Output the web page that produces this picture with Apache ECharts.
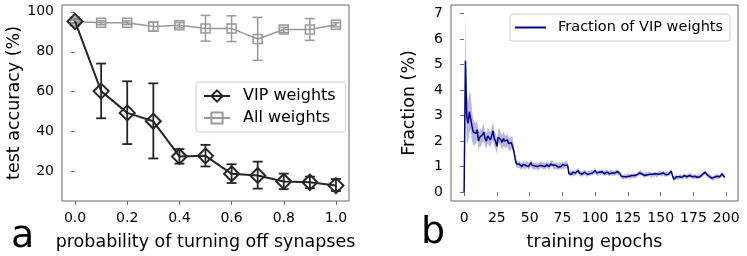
<!DOCTYPE html>
<html><head><meta charset="utf-8">
<script src="https://cdn.jsdelivr.net/npm/echarts@6/dist/echarts.min.js"></script>
<style>html,body{margin:0;padding:0;background:#fff}#c{width:747px;height:256px}</style>
</head><body><div id="c"></div>
<script>
// Panel a data
const probs = [0.0,0.1,0.2,0.3,0.4,0.5,0.6,0.7,0.8,0.9,1.0];
const vipMean = [95.2,60.3,49.4,45.2,27.6,27.9,18.9,18.1,15.1,14.7,13.0];
const vipLo   = [94.2,46.7,33.8,26.6,24.0,22.6,14.3,11.5,11.2,11.7,10.3];
const vipHi   = [96.2,74.1,65.2,64.2,31.3,33.4,23.7,25.0,19.0,17.5,16.3];
const allMean = [95.1,94.5,94.5,92.6,93.3,91.6,91.6,86.4,91.1,91.1,93.5];
const allLo   = [94.3,93.5,93.6,90.3,92.0,85.3,85.1,75.7,89.6,85.7,92.5];
const allHi   = [95.9,95.5,95.4,94.8,94.6,98.2,98.0,97.2,92.2,96.6,94.5];
const xTicksA = [0,0.2,0.4,0.6,0.8,1.0];
const yTicksA = [20,40,60,80,100];

// Panel b data
const epochs = Array.from({length:200},(_,i)=>i);
const fracMean = [
0,5.15,3.0,2.7,3.15,3.15,2.6,2.35,2.3,2.3,
2.45,2.0,2.15,2.1,2.25,2.35,2.1,2.0,2.2,2.15,
2.05,2.2,2.4,2.1,2.0,1.8,2.15,2.2,2.05,1.95,
2.1,2.0,1.95,2.05,1.9,1.85,1.95,1.9,1.6,1.3,
1.1,1.05,1.1,1.05,1.0,1.08,1.02,1.05,1.1,1.0,
1.05,1.15,1.05,1.0,1.02,1.05,1.0,0.98,1.05,1.08,
1.02,1.05,1.0,1.08,1.05,1.0,1.1,1.15,1.05,1.0,
1.05,1.02,0.98,1.05,1.0,1.08,1.02,1.05,1.1,1.05,
0.72,0.75,0.7,0.78,0.72,0.75,0.8,0.85,0.75,0.72,
0.7,0.75,0.78,0.72,0.7,0.75,0.72,0.78,0.75,0.8,
0.85,0.75,0.72,0.78,0.75,0.8,0.78,0.72,0.75,0.78,
0.75,0.72,0.78,0.75,0.72,0.75,0.78,0.8,0.75,0.72,
0.62,0.57,0.6,0.62,0.6,0.65,0.62,0.6,0.65,0.62,
0.65,0.6,0.68,0.72,0.75,0.78,0.7,0.68,0.65,0.7,
0.68,0.72,0.7,0.65,0.7,0.68,0.72,0.65,0.7,0.75,
0.72,0.68,0.75,0.7,0.68,0.72,0.7,0.75,0.82,0.65,
0.5,0.55,0.6,0.55,0.6,0.62,0.58,0.6,0.65,0.58,
0.6,0.62,0.65,0.68,0.6,0.58,0.62,0.6,0.58,0.62,
0.6,0.65,0.7,0.75,0.78,0.7,0.65,0.62,0.6,0.55,
0.52,0.58,0.6,0.62,0.58,0.6,0.65,0.72,0.62,0.6];
const fracSpread = [
0,1.75,1.0,0.8,0.8,0.7,0.6,0.5,0.45,0.4,
0.38,0.35,0.35,0.32,0.3,0.35,0.3,0.3,0.3,0.3,
0.3,0.3,0.35,0.3,0.3,0.3,0.3,0.3,0.28,0.28,
0.28,0.25,0.25,0.25,0.25,0.25,0.25,0.25,0.2,0.15,
0.13,0.13,0.13,0.13,0.13,0.13,0.13,0.13,0.13,0.13,
0.13,0.13,0.13,0.13,0.13,0.13,0.13,0.13,0.13,0.13,
0.13,0.13,0.13,0.13,0.13,0.13,0.13,0.13,0.13,0.13,
0.13,0.13,0.13,0.13,0.13,0.13,0.13,0.13,0.13,0.13,
0.1,0.1,0.1,0.1,0.1,0.1,0.1,0.1,0.1,0.1,
0.1,0.1,0.1,0.1,0.1,0.1,0.1,0.1,0.1,0.1,
0.1,0.1,0.1,0.1,0.1,0.1,0.1,0.1,0.1,0.1,
0.1,0.1,0.1,0.1,0.1,0.1,0.1,0.1,0.1,0.1,
0.09,0.09,0.09,0.09,0.09,0.09,0.09,0.09,0.09,0.09,
0.09,0.09,0.09,0.09,0.09,0.09,0.09,0.09,0.09,0.09,
0.09,0.09,0.09,0.09,0.09,0.09,0.09,0.09,0.09,0.09,
0.09,0.09,0.09,0.09,0.09,0.09,0.09,0.09,0.09,0.09,
0.09,0.09,0.09,0.09,0.09,0.09,0.09,0.09,0.09,0.09,
0.09,0.09,0.09,0.09,0.09,0.09,0.09,0.09,0.09,0.09,
0.09,0.09,0.09,0.09,0.09,0.09,0.09,0.09,0.09,0.09,
0.09,0.09,0.09,0.09,0.09,0.09,0.09,0.09,0.09,0.09];
const xTicksB = [0,25,50,75,100,125,150,175,200];
const yTicksB = [0,1,2,3,4,5,6,7];

const FONT = 'DejaVu Sans';
const SP = '#6a6a6a';
const chart = echarts.init(document.getElementById('c'), null, {renderer:'canvas'});

function errSeries(name, lo, hi, color, lw){
  return {
    type:'custom', name: name+'_err', xAxisIndex:0, yAxisIndex:0, z:1, silent:true,
    data: probs.map((p,i)=>[p, lo[i], hi[i]]),
    encode:{x:0, y:[1,2]},
    renderItem:(params, api)=>{
      const a = api.coord([api.value(0), api.value(1)]);
      const b = api.coord([api.value(0), api.value(2)]);
      const h = 5;
      const st = {stroke:color, lineWidth:lw};
      return {type:'group', children:[
        {type:'line', shape:{x1:a[0],y1:a[1],x2:b[0],y2:b[1]}, style:st},
        {type:'line', shape:{x1:a[0]-h,y1:a[1],x2:a[0]+h,y2:a[1]}, style:st},
        {type:'line', shape:{x1:b[0]-h,y1:b[1],x2:b[0]+h,y2:b[1]}, style:st}
      ]};
    }
  };
}

const axisCommon = {
  axisLine:{show:false},
  axisTick:{show:true, inside:false, length:4, lineStyle:{color:SP, width:1}},
  axisLabel:{color:'#000', fontFamily:FONT, fontSize:14},
  splitLine:{show:false},
  nameTextStyle:{color:'#000', fontFamily:FONT, fontSize:17.5}
};

chart.setOption({
  animation:false,
  backgroundColor:'#fff',
  grid:[
    {left:62, right:398, top:5, bottom:49, show:true, borderColor:SP, borderWidth:1},
    {left:451, right:9, top:5, bottom:49, show:true, borderColor:SP, borderWidth:1}
  ],
  xAxis:[
    Object.assign({}, axisCommon, {type:'value', gridIndex:0, min:-0.05, max:1.05,
      name:'probability of turning off synapses', nameLocation:'middle', nameGap:32,
      axisTick:Object.assign({}, axisCommon.axisTick, {customValues:xTicksA}),
      axisLabel:Object.assign({}, axisCommon.axisLabel, {customValues:xTicksA, margin:10, formatter:v=>v.toFixed(1)})}),
    Object.assign({}, axisCommon, {type:'value', gridIndex:1, min:-10, max:209,
      name:'training epochs', nameLocation:'middle', nameGap:32,
      axisTick:Object.assign({}, axisCommon.axisTick, {customValues:xTicksB}),
      axisLabel:Object.assign({}, axisCommon.axisLabel, {customValues:xTicksB, margin:10})})
  ],
  yAxis:[
    Object.assign({}, axisCommon, {type:'value', gridIndex:0, min:5.3, max:103.4,
      name:'test accuracy (%)', nameLocation:'middle', nameGap:39,
      axisTick:Object.assign({}, axisCommon.axisTick, {customValues:yTicksA}),
      axisLabel:Object.assign({}, axisCommon.axisLabel, {customValues:yTicksA, margin:8})}),
    Object.assign({}, axisCommon, {type:'value', gridIndex:1, min:-0.35, max:7.34,
      name:'Fraction (%)', nameLocation:'middle', nameGap:33,
      axisTick:Object.assign({}, axisCommon.axisTick, {customValues:yTicksB}),
      axisLabel:Object.assign({}, axisCommon.axisLabel, {customValues:yTicksB, margin:8})})
  ],
  legend:[
    {data:['VIP weights','All weights'], orient:'vertical', left:196, top:82,
     width:146, padding:[6,10,6,7], itemGap:6, itemWidth:26, itemHeight:14,
     backgroundColor:'rgba(255,255,255,0.8)', borderColor:'#d0d0d0', borderWidth:1, borderRadius:3,
     textStyle:{fontFamily:FONT, fontSize:16, color:'#000', padding:[0,0,0,8]}},
    {data:[{name:'Fraction of VIP weights', icon:'rect'}], orient:'vertical', left:510, top:14,
     padding:[6,7,6,5], itemWidth:31, itemHeight:2,
     backgroundColor:'rgba(255,255,255,0.8)', borderColor:'#d0d0d0', borderWidth:1, borderRadius:3,
     textStyle:{fontFamily:FONT, fontSize:14.5, color:'#000', padding:[0,0,0,7]}}
  ],
  graphic:[
    {type:'text', left:11, top:218, style:{text:'a', fontFamily:FONT, fontSize:38, fill:'#000'}},
    {type:'text', left:421, top:214, style:{text:'b', fontFamily:FONT, fontSize:38, fill:'#000'}}
  ],
  series:[
    errSeries('VIP weights', vipLo, vipHi, '#262626', 1.8),
    errSeries('All weights', allLo, allHi, '#999999', 1.5),
    {type:'line', name:'All weights', xAxisIndex:0, yAxisIndex:0, z:2,
     data: probs.map((p,i)=>[p, allMean[i]]),
     symbol:'rect', symbolSize:9, showSymbol:true,
     lineStyle:{color:'#999999', width:1.5},
     itemStyle:{color:'rgba(255,255,255,0)', borderColor:'#999999', borderWidth:1.5}},
    {type:'line', name:'VIP weights', xAxisIndex:0, yAxisIndex:0, z:3,
     data: probs.map((p,i)=>[p, vipMean[i]]),
     symbol:'diamond', symbolSize:[15,15], showSymbol:true,
     lineStyle:{color:'#262626', width:2},
     itemStyle:{color:'rgba(255,255,255,0)', borderColor:'#262626', borderWidth:2}},
    {type:'custom', name:'band', xAxisIndex:1, yAxisIndex:1, silent:true, z:1,
     data:[[0, 0]],
     renderItem:(params, api)=>{
       const up = epochs.map((e,i)=>api.coord([e, fracMean[i]+fracSpread[i]]));
       const dn = epochs.map((e,i)=>api.coord([e, fracMean[i]-fracSpread[i]])).reverse();
       return {type:'polygon', shape:{points: up.concat(dn)}, style:{fill:'rgba(0,0,139,0.28)'}};
     }},
    {type:'line', name:'Fraction of VIP weights', xAxisIndex:1, yAxisIndex:1, symbol:'none', z:3,
     data: epochs.map((e,i)=>[e, fracMean[i]]),
     lineStyle:{color:'#00008b', width:1.5}, itemStyle:{color:'#00008b'}}
  ]
});
</script></body></html>
